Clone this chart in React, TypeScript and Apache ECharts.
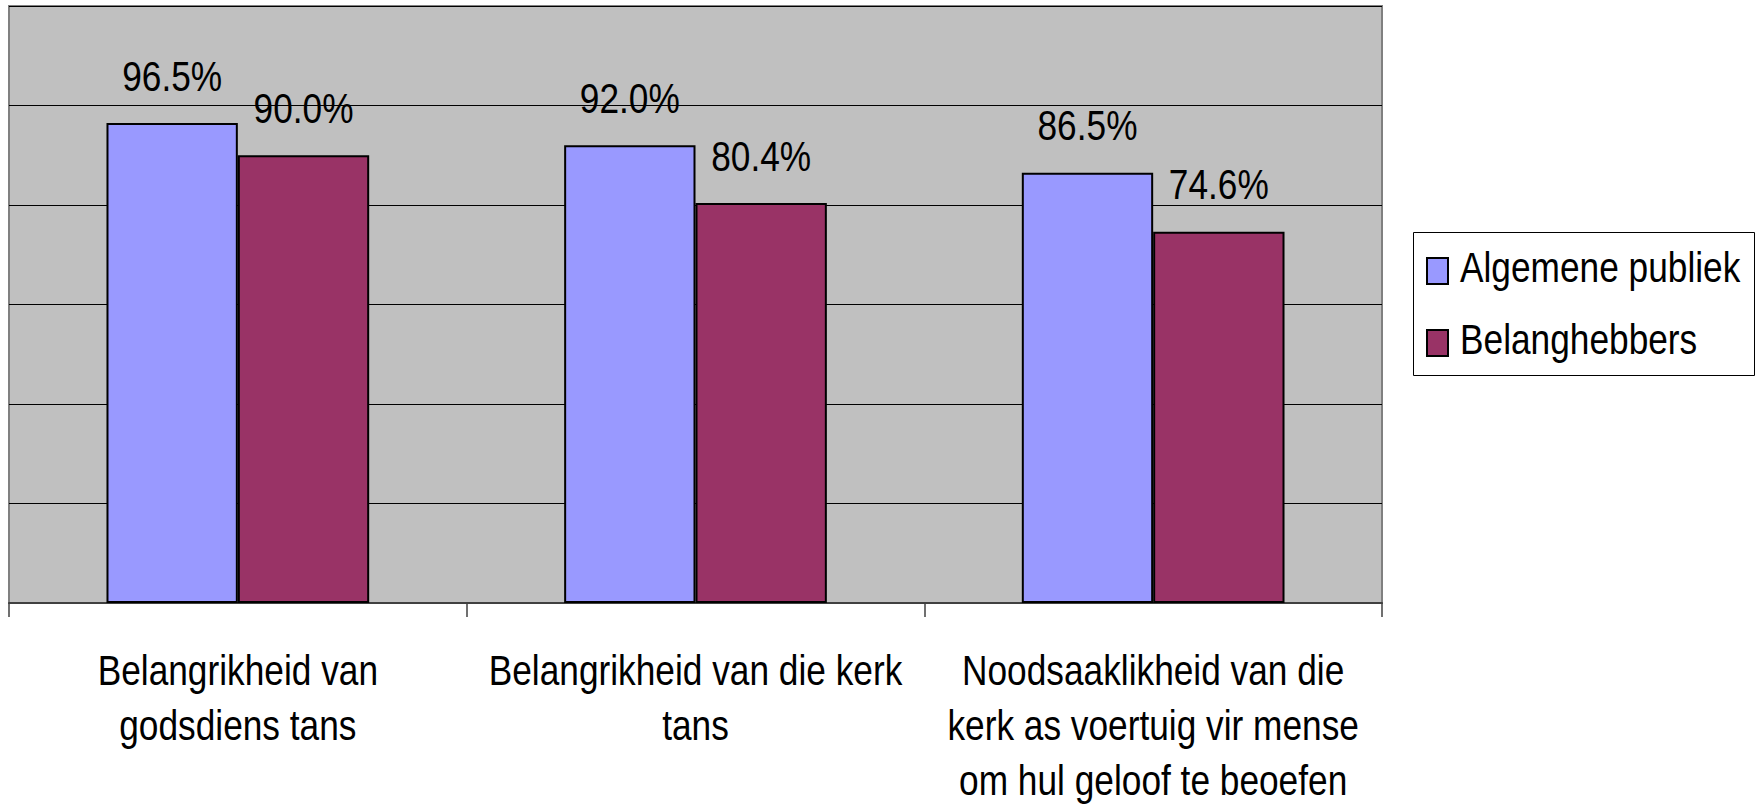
import React, { useEffect, useRef } from "react";
import * as echarts from "echarts";

const categories = [
  "Belangrikheid van\ngodsdiens tans",
  "Belangrikheid van die kerk\ntans",
  "Noodsaaklikheid van die\nkerk as voertuig vir mense\nom hul geloof te beoefen",
];
const seriesNames = ["Algemene publiek", "Belanghebbers"];
const algemenePubliek = [96.5, 92.0, 86.5];
const belanghebbers = [90.0, 80.4, 74.6];
const seriesColors = ["#9999FF", "#993366"];
const yMin = 0;
const yMax = 120;
const yInterval = 20;

const FONT = "'Liberation Sans', Arial, sans-serif";
const FS = 42;
const SX = 0.84; // horizontal condensing of the original narrow font
const CAT_GAP = 0.426;

export default function App() {
  const ref = useRef<HTMLDivElement>(null);
  useEffect(() => {
    if (!ref.current) return;
    const chart = echarts.init(ref.current, undefined, { renderer: "svg" });

    const labelData: number[][] = [];
    algemenePubliek.forEach((v, i) => labelData.push([i, v, 0]));
    belanghebbers.forEach((v, i) => labelData.push([i, v, 1]));
    const axisLabelData = categories.map((_, i) => [i, 0]);

    const legendItems = seriesNames.map((name, k) => ({
      type: "group",
      x: 1427,
      y: 258 + k * 72,
      children: [
        {
          type: "rect",
          shape: { x: 0, y: 0, width: 21, height: 26 },
          style: { fill: seriesColors[k], stroke: "#000", lineWidth: 2 },
        },
        {
          type: "text",
          x: 33,
          y: 9.5,
          scaleX: SX,
          style: {
            text: name,
            fontFamily: FONT,
            fontSize: FS,
            fill: "#000",
            align: "left",
            verticalAlign: "middle",
          },
        },
      ],
    }));

    chart.setOption({
      animation: false,
      backgroundColor: "#fff",
      textStyle: { fontFamily: FONT },
      grid: {
        left: 9,
        top: 6,
        right: 380,
        bottom: 203,
        show: true,
        backgroundColor: "#C0C0C0",
        borderColor: "#808080",
        borderWidth: 2,
      },
      graphic: [
        {
          type: "rect",
          x: 1413.5,
          y: 232.5,
          shape: { x: 0, y: 0, width: 341, height: 143 },
          style: { fill: "#fff", stroke: "#000", lineWidth: 1 },
        },
        ...legendItems,
      ],
      xAxis: {
        type: "category",
        data: categories,
        axisLine: { show: true, lineStyle: { color: "#404040", width: 2 } },
        axisTick: { show: true, length: 14, lineStyle: { color: "#404040", width: 1.5 } },
        axisLabel: { show: false },
      },
      yAxis: {
        type: "value",
        min: yMin,
        max: yMax,
        interval: yInterval,
        axisLabel: { show: false },
        axisLine: { show: false },
        axisTick: { show: false },
        splitLine: { show: true, lineStyle: { color: "#000", width: 1 } },
      },
      series: [
        {
          name: seriesNames[0],
          type: "bar",
          data: algemenePubliek,
          barGap: "0%",
          barCategoryGap: CAT_GAP * 100 + "%",
          itemStyle: { color: seriesColors[0], borderColor: "#000", borderWidth: 2 },
        },
        {
          name: seriesNames[1],
          type: "bar",
          data: belanghebbers,
          itemStyle: { color: seriesColors[1], borderColor: "#000", borderWidth: 2 },
        },
        {
          name: "valueLabels",
          type: "custom",
          silent: true,
          clip: false,
          z: 10,
          encode: { x: 0, y: 1 },
          data: labelData,
          renderItem: (params: any, api: any) => {
            const i = api.value(0);
            const v = api.value(1);
            const s = api.value(2);
            const pt = api.coord([i, v]);
            const catW = api.size([1, 0])[0];
            const barW = (catW * (1 - CAT_GAP)) / 2;
            const x = pt[0] + (s === 0 ? -barW / 2 : barW / 2);
            return {
              type: "text",
              x,
              y: pt[1] - 26,
              scaleX: SX,
              style: {
                text: Number(v).toFixed(1) + "%",
                fontFamily: FONT,
                fontSize: FS,
                fill: "#000",
                align: "center",
                verticalAlign: "bottom",
              },
            };
          },
        },
        {
          name: "categoryLabels",
          type: "custom",
          silent: true,
          clip: false,
          z: 10,
          encode: { x: 0, y: 1 },
          data: axisLabelData,
          renderItem: (params: any, api: any) => {
            const i = api.value(0);
            const pt = api.coord([i, 0]);
            return {
              type: "text",
              x: pt[0],
              y: pt[1] + 40,
              scaleX: SX,
              style: {
                text: categories[i],
                fontFamily: FONT,
                fontSize: FS,
                lineHeight: 55,
                fill: "#000",
                align: "center",
                verticalAlign: "top",
              },
            };
          },
        },
      ],
    });
    return () => chart.dispose();
  }, []);
  return (
    <div
      ref={ref}
      style={{ position: "absolute", left: 0, top: 0, width: 1762, height: 806 }}
    />
  );
}
